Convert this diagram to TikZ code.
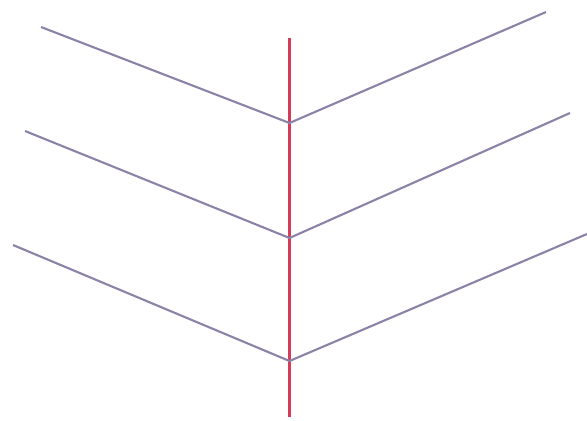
\documentclass[tikz,border=0pt]{standalone}
\definecolor{vein}{HTML}{8C82A8}
\definecolor{axisred}{HTML}{D83A5A}

\begin{document}
\begin{tikzpicture}[x=0.03cm,y=-0.03cm]
  \useasboundingbox (0,0) rectangle (587,421);
  % vertical axis
  \coordinate (axtop) at (289.5,38);
  \coordinate (axbot) at (289.5,417);
  \draw[color=axisred,line width=2pt] (axtop)--(axbot);
  % vertices and free ends of the three chevrons
  \coordinate (v1) at (289.5,123);
  \coordinate (l1) at (41,27);
  \coordinate (r1) at (546,12);
  \coordinate (v2) at (289.5,238);
  \coordinate (l2) at (25,131);
  \coordinate (r2) at (570,113);
  \coordinate (v3) at (289.5,361);
  \coordinate (l3) at (13,245);
  \coordinate (r3) at (587,234);
  \foreach \i in {1,2,3}
    \draw[vein,line width=1.8pt,line join=round] (l\i)--(v\i)--(r\i);
\end{tikzpicture}
\end{document}
